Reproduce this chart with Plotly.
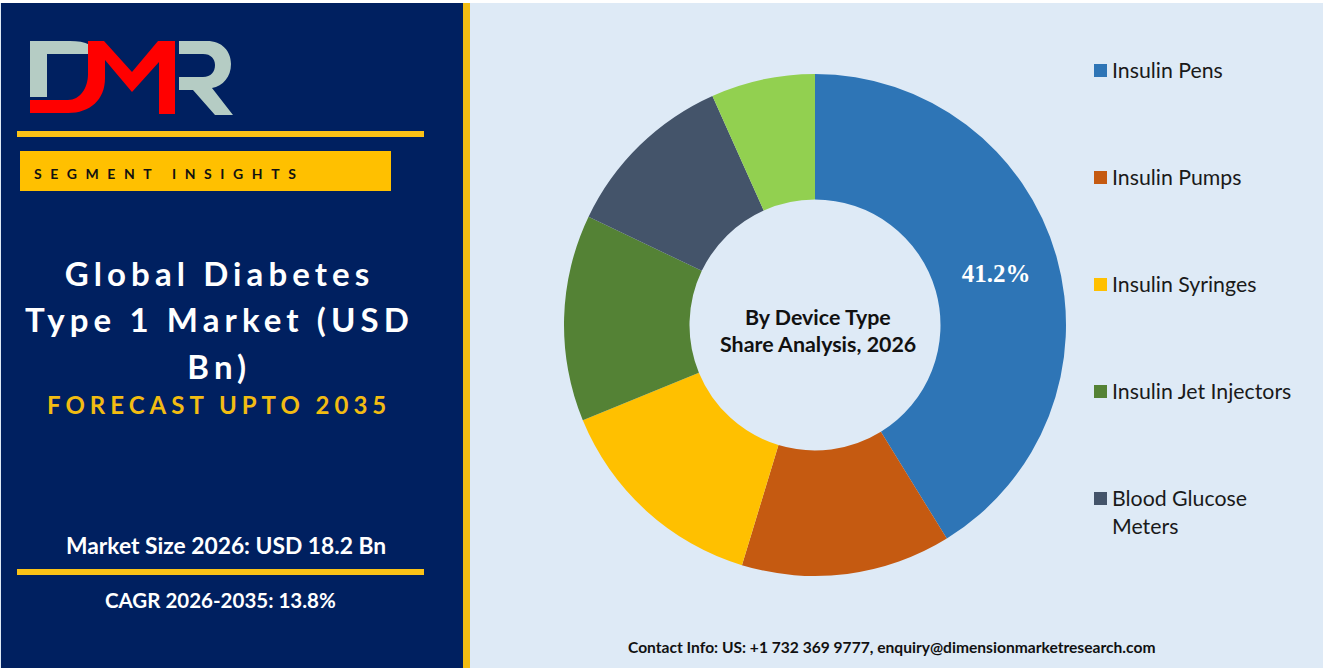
import json
import re
import plotly.graph_objects as go

W = 1323
H = 668

# chart data
categories = ["Insulin Pens", "Insulin Pumps", "Insulin Syringes", "Insulin Jet Injectors", "Blood Glucose<br>Meters", "Others"]
values = [41.2, 13.5, 14.1, 13.3, 11.2, 6.7]
slice_colors = ["#2E75B6", "#C55A11", "#FFC000", "#548235", "#44546A", "#92D050"]
legend_count = 5  # the last slice has no legend entry
labelled_slices = [0]

title_lines = ["Global Diabetes", "Type 1 Market (USD", "Bn)"]
forecast_text = "FORECAST UPTO 2035"
segment_text = "SEGMENT INSIGHTS"
market_text = "Market Size 2026: USD 18.2 Bn"
cagr_text = "CAGR 2026-2035: 13.8%"
center_lines = ["By Device Type", "Share Analysis, 2026"]
contact_text = "Contact Info: US: +1 732 369 9777, enquiry@dimensionmarketresearch.com"

NAVY = "#002060"
YELLOW = "#FFC000"
BACKGROUND = "#DEEAF6"
FONT = "Lato, sans-serif"

# logo outlines, in pixels from the top left of the page
logo_grey_d = "M30 41 L70 41 C78 41 84 42 90 45 L90 54 L47 54 L47 97 L30 97 Z"
logo_red = ("M30 100 L68 100 C80 100 88 88 88 74 L88 41 L104 41 L132 72 L158 41 L175 41 L175 114 "
            "L159 114 L159 62 L132 92 L105 60 L105 78 C105 100 90 113 68 113 L30 113 Z")
logo_grey_r = ("M179 41 L207 41 C222 41 231 51 231 64 C231 77 223 86 212 88 L233 115 L215 115 "
               "L193 90 L179 90 L179 77 L203 77 C211 77 215 72 215 65 C215 59 211 54 203 54 L179 54 Z")


def px(x):
    return x / W


def py(y):
    return 1 - y / H


def paper_path(path):
    # turn a pixel path into paper coordinates
    return re.sub(r"(\d+) (\d+)", lambda m: f"{px(float(m[1])):.5f} {py(float(m[2])):.5f}", path)


def rect(x0, y0, x1, y1, color):
    return dict(type="rect", xref="paper", yref="paper", x0=px(x0), x1=px(x1), y0=py(y0), y1=py(y1),
                fillcolor=color, line_width=0, layer="below")


def label(text, x, y, size, color="white", bold=True, anchor="center", family=FONT):
    return dict(text=f"<b>{text}</b>" if bold else text, xref="paper", yref="paper", x=px(x), y=py(y),
                xanchor=anchor, yanchor="middle", showarrow=False, align=anchor,
                font=dict(family=family, size=size, color=color))


shapes = [
    rect(0, 3, W, H, BACKGROUND),
    rect(1, 3, 463, H, NAVY),
    rect(463, 3, 470, H, "#F2BC12"),
    rect(17, 131, 424, 137, "#FBC216"),
    rect(17, 569, 424, 575, "#FBC216"),
    rect(20, 151, 391, 191, YELLOW),
]
for path, color in [(logo_grey_d, "#B5CCC4"), (logo_grey_r, "#B5CCC4"), (logo_red, "#FF0000")]:
    shapes.append(dict(type="path", xref="paper", yref="paper", path=paper_path(path),
                       fillcolor=color, line_width=0))

annotations = [
    label(segment_text, 32, 173, 14, color="#111111", anchor="left"),
    label(forecast_text, 219, 404, 24, color="#F2BC12"),
    label(market_text, 226, 545, 22.8),
    label(cagr_text, 220, 600, 20.5),
    label(contact_text, 892, 647, 15.6, color="#111111"),
    label(center_lines[0], 818, 317, 21.4, color="#111111"),
    label(center_lines[1], 818, 344, 21.4, color="#111111"),
]
for line, y in zip(title_lines, [273, 319, 366]):
    annotations.append(label(line, 219, y, 33))

# legend drawn by hand, the entries sit far apart and one wraps
for i in range(legend_count):
    y = 70 + 107 * i
    shapes.append(rect(1094, y - 6, 1107, y + 7, slice_colors[i]))
    # the wrapped entry is centred on its two lines
    offset = 14 if "<br>" in categories[i] else 0
    annotations.append(label(categories[i], 1110, y + offset, 21.3, color="#1A1A1A", bold=False, anchor="left"))

fig = go.Figure()
fig.add_trace(go.Pie(
    labels=[c.replace("<br>", " ") for c in categories],
    values=values,
    text=[f"<b>{v}%</b>" if i in labelled_slices else "" for i, v in enumerate(values)],
    textinfo="text",
    textposition="inside",
    insidetextorientation="horizontal",
    insidetextfont=dict(family="Liberation Serif", size=25, color="white"),
    marker=dict(colors=slice_colors, line=dict(width=0)),
    hole=0.5,
    sort=False,
    direction="clockwise",
    rotation=0,
    showlegend=False,
    domain=dict(x=[px(564), px(1066)], y=[py(576), py(74)]),
))

fig.update_layout(
    width=W,
    height=H,
    margin=dict(l=0, r=0, t=0, b=0),
    paper_bgcolor="white",
    shapes=shapes,
    annotations=annotations,
)

# plotly has no letter spacing option, so set it on the svg text after drawing
letter_spacing = {
    segment_text: 8.6,
    title_lines[0]: 5.1,
    title_lines[1]: 5.1,
    title_lines[2]: 5.1,
    forecast_text: 5.0,
}
post_script = """
document.body.style.margin = '0';
var spacing = %s;
document.querySelectorAll('.annotation-text').forEach(function (t) {
    if (spacing[t.textContent]) { t.style.letterSpacing = spacing[t.textContent] + 'px'; }
});
""" % json.dumps(letter_spacing)

fig.write_html("out.html", post_script=post_script, config=dict(displayModeBar=False))
